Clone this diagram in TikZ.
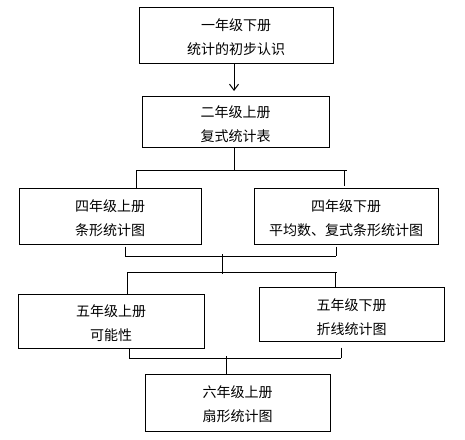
\documentclass[tikz,border=0pt]{standalone}
\usepackage{fontspec}
\setmainfont{Noto Sans CJK SC}
\usetikzlibrary{arrows.meta,calc}
\tikzset{
  box/.style={draw,line width=1pt,rectangle,inner sep=0pt},
  txt/.style={align=center,inner sep=0pt,font=\fontsize{14pt}{24pt}\selectfont},
  conn/.style={line width=1pt},
}
\begin{document}
\begin{tikzpicture}[x=1pt,y=-1pt]
\useasboundingbox (0,0) rectangle (465,439);
% boxes
\node[box,minimum width=194,minimum height=56] (b1) at (236,35) {};
\node[box,minimum width=187,minimum height=51] (b2) at (235.5,121.5) {};
\node[box,minimum width=182,minimum height=56] (b3) at (110,216) {};
\node[box,minimum width=184,minimum height=56] (b4) at (346,216) {};
\node[box,minimum width=186,minimum height=54] (b5) at (111,321) {};
\node[box,minimum width=185,minimum height=54] (b6) at (351.5,314) {};
\node[box,minimum width=185,minimum height=57] (b7) at (237.5,402.5) {};
% texts
\node[txt] (t1) at (236,37.5) {一年级下册\\统计的初步认识};
\node[txt] (t2) at (235.5,124.5) {二年级上册\\复式统计表};
\node[txt] (t3) at (110,218) {四年级上册\\条形统计图};
\node[txt] (t4) at (346,218) {四年级下册\\平均数、复式条形统计图};
\node[txt] (t5) at (111,323.5) {五年级上册\\可能性};
\node[txt] (t6) at (351.5,317.5) {五年级下册\\折线统计图};
\node[txt] (t7) at (237.5,404.5) {六年级上册\\扇形统计图};
% arrow
\coordinate (a1) at (234,91);
\draw[conn,-{Straight Barb[length=6pt,width=9pt]}] (b1.south -| a1) -- (a1);
% bracket 1
\coordinate (j1) at (234,170);
\coordinate (j1l) at (136,170);
\coordinate (j1r) at (347,170);
\coordinate (j1d) at (344,170);
\draw[conn] (b2.south -| j1) -- (j1);
\draw[conn] (j1l) -- (j1r);
\draw[conn] (j1l) -- (b3.north -| j1l);
\draw[conn] (j1d) -- ($(b4.north -| j1d)+(0,-2)$);
% bracket 2
\coordinate (k1l) at (125,256);
\coordinate (k1r) at (336,256);
\coordinate (k1m) at (222,254);
\coordinate (k2m) at (222,274);
\coordinate (k2l) at (127,272);
\coordinate (k2r) at (337,272);
\coordinate (k2d) at (335,272);
\draw[conn] ($(b3.south -| k1l)+(0,2)$) -- (k1l);
\draw[conn] ($(b4.south -| k1r)+(0,2)$) -- (k1r);
\draw[conn] (k1l) -- (k1r);
\draw[conn] (k1m) -- (k2m);
\draw[conn] (k2l) -- (k2r);
\draw[conn] (k2l) -- (b5.north -| k2l);
\draw[conn] (k2d) -- (b6.north -| k2d);
% bracket 3
\coordinate (m1l) at (129,358);
\coordinate (m1r) at (341,358);
\coordinate (m1m) at (226,356);
\draw[conn] (b5.south -| m1l) -- (m1l);
\draw[conn] ($(b6.south -| m1r)+(0,6)$) -- (m1r);
\draw[conn] (m1l) -- (m1r);
\draw[conn] (m1m) -- (b7.north -| m1m);
\end{tikzpicture}
\end{document}
